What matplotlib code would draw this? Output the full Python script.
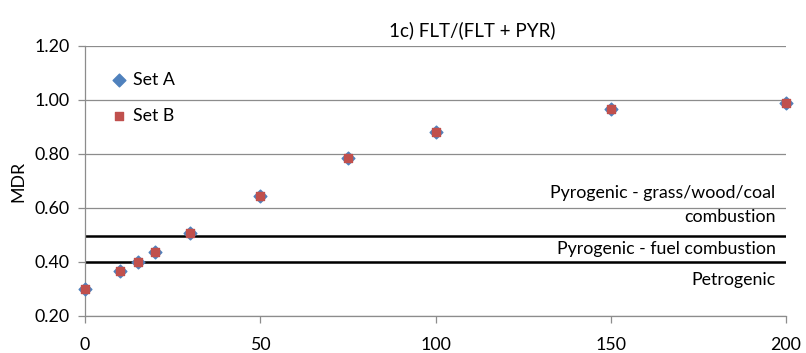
import matplotlib
matplotlib.use("Agg")
import matplotlib.pyplot as plt

x_vals = [0, 10, 15, 20, 30, 50, 75, 100, 150, 200]
set_a = [0.30, 0.367, 0.40, 0.436, 0.507, 0.646, 0.787, 0.882, 0.966, 0.988]
set_b = [0.30, 0.367, 0.40, 0.436, 0.507, 0.646, 0.787, 0.882, 0.966, 0.988]
thresholds = [0.40, 0.495]
x_ticks = [0, 50, 100, 150, 200]
y_ticks = [0.20, 0.40, 0.60, 0.80, 1.00, 1.20]
title = "1c) FLT/(FLT + PYR)"
ylabel = "MDR"
zone_labels = ["Pyrogenic - grass/wood/coal\ncombustion", "Pyrogenic - fuel combustion", "Petrogenic"]

plt.rcParams['font.family'] = ['Lato', 'DejaVu Sans']
FS = 12.8

fig = plt.figure(figsize=(8.06, 3.53), dpi=100)
ax = fig.add_axes([85/806, 1-316/353, (786-85)/806, (316-46)/353])

ax.set_xlim(0, 200)
ax.set_ylim(0.2, 1.2)
ax.set_xticks(x_ticks)
ax.set_yticks(y_ticks)
ax.set_yticklabels([f"{v:.2f}" for v in y_ticks])
ax.grid(axis='y', color='#8c8c8c', linewidth=0.9)
ax.set_axisbelow(True)
for s in ['top', 'right']:
    ax.spines[s].set_visible(False)
for s in ['left', 'bottom']:
    ax.spines[s].set_color('#8c8c8c')
    ax.spines[s].set_linewidth(0.9)
ax.tick_params(axis='both', colors='#8c8c8c', labelcolor='black', labelsize=FS, length=5, width=0.9)
ax.tick_params(axis='x', pad=10)
ax.tick_params(axis='y', pad=6)

for t in thresholds:
    ax.axhline(t, color='black', linewidth=1.8, zorder=2)

ax.scatter(x_vals, set_a, marker='D', s=42, color='#4F81BD', zorder=3, label='Set A', clip_on=False)
ax.scatter(x_vals, set_b, marker='s', s=30, color='#C0504D', zorder=4, label='Set B', clip_on=False)

leg = ax.legend(loc='upper left', bbox_to_anchor=(0.02, 0.93), frameon=False, fontsize=FS,
                handletextpad=0.0, labelspacing=1.1, handlelength=1.5, borderaxespad=0)

ax.text(0.985, 0.612, zone_labels[0], transform=ax.get_yaxis_transform(), ha='right', va='center',
        fontsize=FS, linespacing=1.6)
ax.text(0.985, 0.449, zone_labels[1], transform=ax.get_yaxis_transform(), ha='right', va='center', fontsize=FS)
ax.text(0.985, 0.334, zone_labels[2], transform=ax.get_yaxis_transform(), ha='right', va='center', fontsize=FS)

ax.set_ylabel(ylabel, fontsize=FS, labelpad=6)
fig.text(472/806, 1-30/353, title, ha='center', va='center', fontsize=13.5)

fig.savefig("out.png", dpi=100)
